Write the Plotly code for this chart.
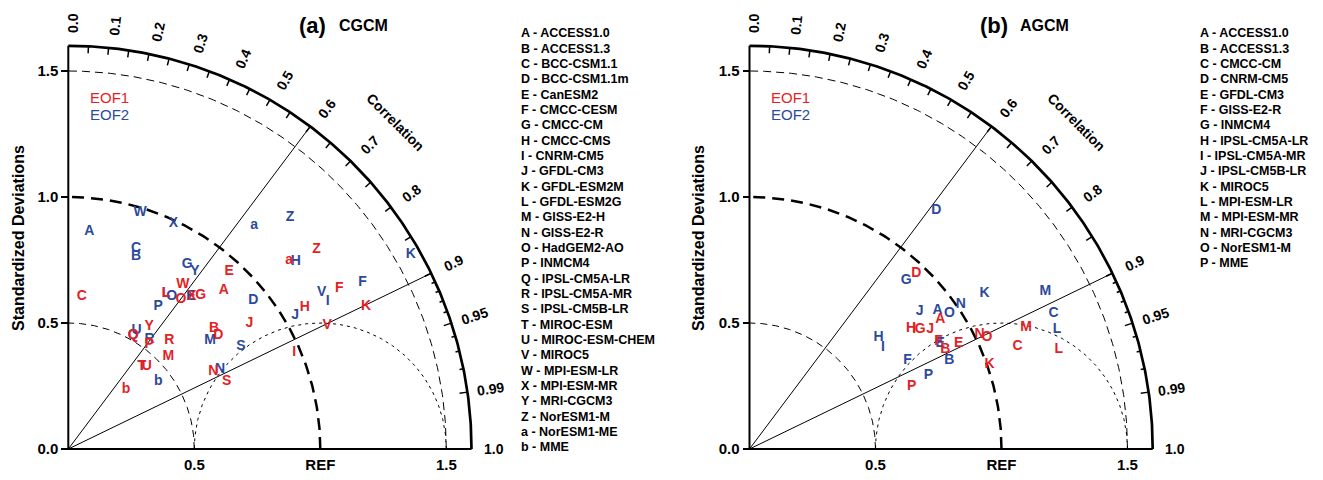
import numpy as np
import plotly.graph_objects as go

FIG_W, FIG_H = 1323, 480
UNIT = 252.0        # pixels per unit of standardized deviation
ORIGIN_Y = 449.0    # pixel row (from top) of the zero line
PANEL_W = 500.0     # pixel width of each diagram area
R_OUT = 1.6
RED = "#e41f26"
BLUE = "#2c4a9c"
FONT = "Liberation Sans, Arial, Helvetica, sans-serif"

# ---- axis / tick definitions -------------------------------------------
corr_tick_labels = ["0.0", "0.1", "0.2", "0.3", "0.4", "0.5", "0.6",
                    "0.7", "0.8", "0.9", "0.95", "0.99", "1.0"]
corr_ticks_mid = [0.05, 0.1, 0.15, 0.2, 0.25, 0.3, 0.35, 0.4, 0.45, 0.5,
                  0.55, 0.6, 0.65, 0.7, 0.75, 0.8, 0.85, 0.9]
corr_ticks_fine = [0.91, 0.92, 0.93, 0.94, 0.96, 0.97, 0.98]
corr_ticks_long = [0.95, 0.99]
corr_ref_lines = [0.6, 0.9]
std_tick_vals = [0.0, 0.5, 1.0, 1.5]
std_tick_text = ["0.0", "0.5", "1.0", "1.5"]
ref_tick_vals = [0.5, 1.0, 1.5]
ref_tick_text = ["0.5", "REF", "1.5"]

# ---- (a) CGCM -----------------------------------------------------------
cgcm_labels = ["A", "B", "C", "D", "E", "F", "G", "H", "I", "J", "K", "L", "M",
               "N", "O", "P", "Q", "R", "S", "T", "U", "V", "W", "X", "Y", "Z",
               "a", "b"]
cgcm_models = ["ACCESS1.0", "ACCESS1.3", "BCC-CSM1.1", "BCC-CSM1.1m", "CanESM2",
               "CMCC-CESM", "CMCC-CM", "CMCC-CMS", "CNRM-CM5", "GFDL-CM3",
               "GFDL-ESM2M", "GFDL-ESM2G", "GISS-E2-H", "GISS-E2-R",
               "HadGEM2-AO", "INMCM4", "IPSL-CM5A-LR", "IPSL-CM5A-MR",
               "IPSL-CM5B-LR", "MIROC-ESM", "MIROC-ESM-CHEM", "MIROC5",
               "MPI-ESM-LR", "MPI-ESM-MR", "MRI-CGCM3", "NorESM1-M",
               "NorESM1-ME", "MME"]
cgcm_eof1_std = [0.881, 0.751, 0.607, 0.747, 0.950, 1.250, 0.803, 1.093, 0.974,
                 0.875, 1.310, 0.729, 0.540, 0.652, 0.744, 0.523, 0.520, 0.588,
                 0.683, 0.438, 0.451, 1.139, 0.794, 0.780, 0.582, 1.263, 1.152,
                 0.330]
cgcm_eof1_corr = [0.701, 0.770, 0.088, 0.797, 0.672, 0.860, 0.654, 0.859, 0.920,
                  0.821, 0.902, 0.532, 0.735, 0.882, 0.601, 0.614, 0.496, 0.682,
                  0.920, 0.665, 0.690, 0.902, 0.572, 0.628, 0.552, 0.780, 0.761,
                  0.694]
cgcm_eof2_std = [0.866, 0.809, 0.840, 0.941, 0.778, 1.342, 0.872, 1.170, 1.184,
                 1.045, 1.562, 0.729, 0.709, 0.679, 0.732, 0.670, 0.520, 0.540,
                 0.796, 0.438, 0.544, 1.182, 0.980, 0.988, 0.865, 1.272, 1.152,
                 0.446]
cgcm_eof2_corr = [0.096, 0.332, 0.320, 0.780, 0.626, 0.870, 0.541, 0.772, 0.869,
                  0.861, 0.870, 0.532, 0.793, 0.887, 0.560, 0.533, 0.496, 0.597,
                  0.860, 0.665, 0.498, 0.851, 0.291, 0.422, 0.581, 0.692, 0.640,
                  0.801]

# ---- (b) AGCM -----------------------------------------------------------
agcm_labels = ["A", "B", "C", "D", "E", "F", "G", "H", "I", "J", "K", "L", "M",
               "N", "O", "P"]
agcm_models = ["ACCESS1.0", "ACCESS1.3", "CMCC-CM", "CNRM-CM5", "GFDL-CM3",
               "GISS-E2-R", "INMCM4", "IPSL-CM5A-LR", "IPSL-CM5A-MR",
               "IPSL-CM5B-LR", "MIROC5", "MPI-ESM-LR", "MPI-ESM-MR",
               "MRI-CGCM3", "NorESM1-M", "MME"]
agcm_eof1_std = [0.914, 0.871, 1.139, 0.962, 0.929, 0.863, 0.827, 0.800, 0.808,
                 0.859, 1.010, 1.289, 1.200, 1.020, 1.041, 0.690]
agcm_eof1_corr = [0.828, 0.892, 0.934, 0.688, 0.893, 0.869, 0.819, 0.802, 0.809,
                  0.835, 0.943, 0.952, 0.915, 0.895, 0.905, 0.933]
agcm_eof2_std = [0.927, 0.868, 1.322, 1.203, 0.865, 0.718, 0.914, 0.676, 0.665,
                 0.869, 1.118, 1.309, 1.329, 1.017, 0.959, 0.768]
agcm_eof2_corr = [0.805, 0.914, 0.913, 0.616, 0.875, 0.873, 0.680, 0.757, 0.796,
                  0.777, 0.834, 0.932, 0.883, 0.825, 0.827, 0.925]

panels = [
    dict(tag="(a)", name="CGCM", labels=cgcm_labels, models=cgcm_models,
         s1=cgcm_eof1_std, c1=cgcm_eof1_corr, s2=cgcm_eof2_std, c2=cgcm_eof2_corr,
         left_px=0.0, origin_px=68.3, list_px=519.0, xa="x", ya="y"),
    dict(tag="(b)", name="AGCM", labels=agcm_labels, models=agcm_models,
         s1=agcm_eof1_std, c1=agcm_eof1_corr, s2=agcm_eof2_std, c2=agcm_eof2_corr,
         left_px=680.0, origin_px=749.5, list_px=1198.0, xa="x2", ya="y2"),
]


def to_xy(std, corr):
    std = np.asarray(std, float)
    corr = np.asarray(corr, float)
    return std * corr, std * np.sqrt(1.0 - corr ** 2)


def arc(cx, cy, r, a0, a1, n=240):
    t = np.radians(np.linspace(a0, a1, n))
    return cx + r * np.cos(t), cy + r * np.sin(t)


fig = go.Figure()
annotations = []


def line(xs, ys, xa, ya, width, dash="solid", color="black"):
    fig.add_trace(go.Scatter(x=xs, y=ys, mode="lines", xaxis=xa, yaxis=ya,
                             line=dict(color=color, width=width, dash=dash),
                             hoverinfo="skip", showlegend=False))


def note(text, x, y, xa, ya, size, weight="normal", color="black", angle=0,
         xanchor="center", yanchor="middle"):
    annotations.append(dict(text=text, x=x, y=y, xref=xa, yref=ya,
                            showarrow=False, textangle=angle,
                            xanchor=xanchor, yanchor=yanchor,
                            font=dict(family=FONT, size=size, color=color,
                                      weight=weight)))


for p in panels:
    xa, ya = p["xa"], p["ya"]

    # std-dev circles about the origin
    for r, w, d in [(0.5, 1, "7px,5px"), (1.5, 1, "8px,5px"), (1.0, 2.5, "12px,7px")]:
        x, y = arc(0, 0, r, 0, 90)
        line(x, y, xa, ya, w, d)
    # centred-RMS circle about the reference point
    x, y = arc(1.0, 0, 0.5, 0, 180)
    line(x, y, xa, ya, 1, "3px,4px")
    # correlation reference rays
    for c in corr_ref_lines:
        x, y = to_xy([0, R_OUT], [c, c])
        line(x, y, xa, ya, 1)
    # frame
    line([0, 0, R_OUT], [R_OUT, 0, 0], xa, ya, 2)
    x, y = arc(0, 0, R_OUT, 0, 90)
    line(x, y, xa, ya, 2.7)
    # correlation ticks on the outer arc (pointing inward)
    tx, ty = [], []
    for vals, ln in [(corr_ticks_mid, 7), (corr_ticks_fine, 4), (corr_ticks_long, 8)]:
        for c in vals:
            x, y = to_xy([R_OUT, R_OUT - ln / UNIT], [c, c])
            tx += list(x) + [None]
            ty += list(y) + [None]
    line(tx, ty, xa, ya, 1.5)

    # model letters: EOF2 underneath, EOF1 on top
    for s, c, col in [(p["s2"], p["c2"], BLUE), (p["s1"], p["c1"], RED)]:
        x, y = to_xy(s, c)
        fig.add_trace(go.Scatter(x=x, y=y, mode="text", text=p["labels"],
                                 textposition="middle center", xaxis=xa, yaxis=ya,
                                 textfont=dict(family=FONT, size=14, color=col,
                                               weight="bold"),
                                 hoverinfo="skip", showlegend=False))

    # correlation tick labels, nudged slightly to the right near the top
    nudge = 4.5 / UNIT
    for lab in corr_tick_labels:
        c = float(lab)
        th = np.arccos(c)
        x, y = to_xy([1.69], [c])
        note(lab, x[0] + nudge * np.sin(th), y[0],
             xa, ya, 14, "bold", angle=-np.degrees(th))
    x, y = to_xy([1.834], [np.cos(np.radians(45.0))])
    note("Correlation", x[0], y[0], xa, ya, 14, "bold", angle=45)

    # titles and series key
    note(p["tag"], 0.969, 1.679, xa, ya, 22, "bold")
    note(p["name"], 1.066, 1.679, xa, ya, 16, "bold", xanchor="left")
    note("EOF1", 0.078, 1.395, xa, ya, 15, color=RED, xanchor="left")
    note("EOF2", 0.078, 1.329, xa, ya, 15, color=BLUE, xanchor="left")
    note("Standardized Deviations", (p["left_px"] + 18) / FIG_W, 1 - 238 / FIG_H,
         "paper", "paper", 16, "bold", angle=-90)

    # model key
    for i, (lab, mod) in enumerate(zip(p["labels"], p["models"])):
        note(f"{lab} - {mod}", p["list_px"] / FIG_W, 1 - (33.3 + 15.33 * i) / FIG_H,
             "paper", "paper", 12.5, "bold", xanchor="left")


def axes_for(p):
    x0 = p["left_px"]
    ox = p["origin_px"]
    xaxis = dict(domain=[x0 / FIG_W, (x0 + PANEL_W) / FIG_W],
                 range=[(x0 - ox) / UNIT, (x0 + PANEL_W - ox) / UNIT],
                 anchor="free", position=(FIG_H - ORIGIN_Y) / FIG_H,
                 tickvals=ref_tick_vals, ticktext=ref_tick_text, ticks="",
                 ticklabelstandoff=5,
                 tickfont=dict(family=FONT, size=15, color="black", weight="bold"),
                 showgrid=False, zeroline=False, showline=False, fixedrange=True)
    yaxis = dict(domain=[0, 1],
                 range=[-(FIG_H - ORIGIN_Y) / UNIT, ORIGIN_Y / UNIT],
                 anchor="free", position=ox / FIG_W,
                 tickvals=std_tick_vals, ticktext=std_tick_text,
                 ticks="outside", ticklen=7, tickwidth=2, tickcolor="black",
                 tickfont=dict(family=FONT, size=15, color="black", weight="bold"),
                 showgrid=False, zeroline=False, showline=False, fixedrange=True)
    return xaxis, yaxis


xa1, ya1 = axes_for(panels[0])
xa2, ya2 = axes_for(panels[1])

fig.update_layout(
    width=FIG_W, height=FIG_H,
    margin=dict(l=0, r=0, t=0, b=0),
    paper_bgcolor="white", plot_bgcolor="white",
    showlegend=False,
    xaxis=xa1, yaxis=ya1, xaxis2=xa2, yaxis2=ya2,
    annotations=annotations,
)

fig.write_html("out.html")
